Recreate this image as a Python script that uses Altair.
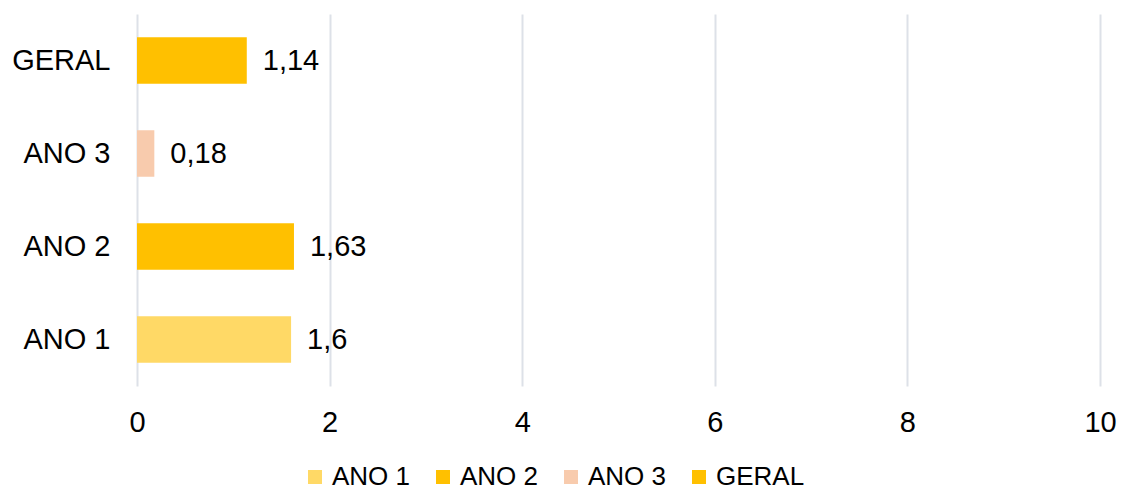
import altair as alt
import pandas as pd

# Categories (legend order) and their values
categories = ["ANO 1", "ANO 2", "ANO 3", "GERAL"]
values = [1.6, 1.63, 0.18, 1.14]
colors = ["#FFD966", "#FFC000", "#F8CBAD", "#FFC000"]
row_order = ["GERAL", "ANO 3", "ANO 2", "ANO 1"]
x_ticks = [0, 2, 4, 6, 8, 10]

df = pd.DataFrame({
    "categoria": categories,
    "valor": values,
    "rotulo": [str(v).replace(".", ",") for v in values],
})

FONT = "Liberation Sans"

base = alt.Chart(df).encode(
    y=alt.Y(
        "categoria:N",
        sort=row_order,
        title=None,
        scale=alt.Scale(paddingInner=0.5, paddingOuter=0.25),
        axis=alt.Axis(
            ticks=False, domain=False, labelPadding=27,
            labelFontSize=29, labelFont=FONT, labelColor="#000000",
        ),
    ),
)

bars = base.mark_bar().encode(
    x=alt.X(
        "valor:Q",
        title=None,
        scale=alt.Scale(domain=[0, 10], nice=False),
        axis=alt.Axis(
            values=x_ticks, format="d", labelFlush=False,
            ticks=False, domain=False, labelPadding=22,
            labelFontSize=29, labelFont=FONT, labelColor="#000000",
            grid=True, gridColor="#DDE1E8", gridWidth=2,
        ),
    ),
    color=alt.Color(
        "categoria:N",
        scale=alt.Scale(domain=categories, range=colors),
        legend=alt.Legend(
            title=None, orient="none", direction="horizontal",
            legendX=165, legendY=450,
            symbolType="square", symbolSize=196, symbolStrokeWidth=0,
            labelFontSize=26, labelFont=FONT, labelColor="#000000",
            labelOffset=4, columnPadding=19, labelLimit=300,
        ),
    ),
)

labels = base.mark_text(
    align="left", baseline="middle", dx=16,
    fontSize=29, font=FONT, color="#000000",
).encode(
    x="valor:Q",
    text="rotulo:N",
)

chart = (
    alt.layer(bars, labels)
    .properties(
        width=963, height=372,
        autosize=alt.AutoSizeParams(type="none"),
        padding={"left": 137, "top": 14, "right": 27, "bottom": 104},
    )
    .configure_view(stroke=None)
)

chart.save("out.html", embed_options={"renderer": "svg", "actions": False})
